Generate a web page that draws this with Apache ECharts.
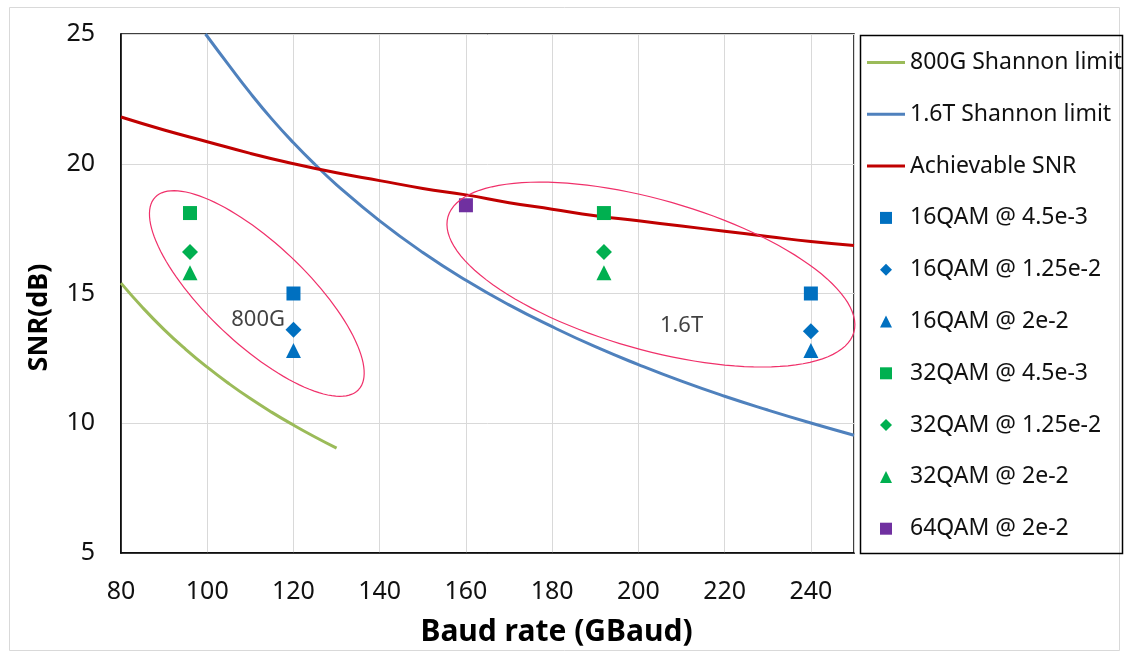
<!DOCTYPE html>
<html>
<head>
<meta charset="utf-8">
<script src="https://cdn.jsdelivr.net/npm/echarts@6/dist/echarts.min.js"></script>
<style>
  html, body { margin: 0; padding: 0; background: #fff; }
  #main { width: 1128px; height: 653px; }
</style>
</head>
<body>
<div id="main"></div>
<script>
// x ticks / y ticks
const xTicks = [80, 100, 120, 140, 160, 180, 200, 220, 240];
const yTicks = [5, 10, 15, 20, 25];

// curves [baud, snr]
const shannon800G = [
    [80, 15.4], [85, 14.46], [90, 13.61], [95, 12.85], [100, 12.16], [105, 11.53],
    [110, 10.95], [115, 10.42], [120, 9.93], [125, 9.47], [130, 9.04]
];
const shannon1T6 = [
    [99.6, 25.0], [105, 23.8], [110, 22.72], [115, 21.72], [120, 20.81], [125, 19.97],
    [130, 19.19], [140, 17.8], [150, 16.58], [160, 15.51], [170, 14.56], [180, 13.72],
    [190, 12.95], [200, 12.26], [210, 11.62], [220, 11.04], [230, 10.51], [240, 10.01], [250, 9.54]
];
const achievable = [
    [80, 21.8], [90, 21.3], [100, 20.85], [110, 20.4], [120, 20.0], [130, 19.65],
    [140, 19.35], [150, 19.05], [160, 18.8], [170, 18.5], [180, 18.25], [190, 18.0],
    [200, 17.8], [210, 17.6], [220, 17.4], [230, 17.2], [240, 17.0], [250, 16.85]
];

// measured points
const qam16_45e3 = [[120, 15.0], [240, 15.0]];
const qam16_125e2 = [[120, 13.6], [240, 13.55]];
const qam16_2e2 = [[120, 12.8], [240, 12.8]];
const qam32_45e3 = [[96, 18.1], [192, 18.1]];
const qam32_125e2 = [[96, 16.6], [192, 16.6]];
const qam32_2e2 = [[96, 15.8], [192, 15.8]];
const qam64_2e2 = [[160, 18.4]];

// group annotations: data-space centre, pixel semi-axes, rotation (deg)
const groupRings = [
    [111.5, 15.0, 140, 50, 43.4],
    [202.9, 15.73, 211, 75, 15.9]
];
const groupLabels = [
    { name: '800G', value: [111.8, 14.0] },
    { name: '1.6T', value: [210, 13.75] }
];

const FONT = '"Noto Sans", "Open Sans", sans-serif';
const BLUE = '#0070C0';
const GREEN = '#00B050';
// legend icons as paths so they keep their aspect
const LINE_ICON = 'path://M0,0H38V3H0Z';
const SQUARE_ICON = 'path://M0,0H10V10H0Z';
const DIAMOND_ICON = 'path://M5,0L10,5L5,10L0,5Z';
const TRIANGLE_ICON = 'path://M5,0L10,10H0Z';

const chart = echarts.init(document.getElementById('main'));

function lineSeries(name, data, color) {
    return {
        name: name,
        type: 'line',
        data: data,
        smooth: true,
        symbol: 'none',
        lineStyle: { color: color, width: 3 },
        itemStyle: { color: color },
        z: 3
    };
}

function dotSeries(name, data, color, symbol) {
    return {
        name: name,
        type: 'scatter',
        data: data,
        symbol: symbol,
        symbolSize: symbol === 'rect' ? 14 : (symbol === 'diamond' ? 16 : 15),
        itemStyle: { color: color, opacity: 1 },
        z: 4
    };
}

const option = {
    animation: false,
    backgroundColor: '#fff',
    grid: {
        left: 121, right: 274, top: 34, bottom: 100,
        show: true, borderColor: '#000', borderWidth: 1.5
    },
    xAxis: {
        type: 'value',
        min: xTicks[0], max: 250, interval: 20,
        name: 'Baud rate (GBaud)',
        nameLocation: 'middle',
        nameGap: 64,
        nameTextStyle: {
            fontFamily: FONT, fontSize: 30, fontWeight: 'bold', color: '#000',
            padding: [0, 0, 0, 138]
        },
        axisLine: { lineStyle: { color: '#000', width: 1.5 } },
        axisTick: { show: false },
        axisLabel: {
            fontFamily: FONT, fontSize: 25, color: '#111', margin: 26,
            showMaxLabel: false,
            formatter: v => xTicks.includes(v) ? String(v) : ''
        },
        splitLine: { show: true, lineStyle: { color: '#d9d9d9', width: 1 } }
    },
    yAxis: {
        type: 'value',
        min: yTicks[0], max: yTicks[yTicks.length - 1], interval: 5,
        name: 'SNR(dB)',
        nameLocation: 'middle',
        nameGap: 68,
        nameTextStyle: {
            fontFamily: FONT, fontSize: 27, fontWeight: 'bold', color: '#000',
            padding: [0, 48, 0, 0]
        },
        axisLine: { show: true, lineStyle: { color: '#000', width: 1.5 } },
        axisTick: { show: false },
        axisLabel: { fontFamily: FONT, fontSize: 25, color: '#111', margin: 26 },
        splitLine: { show: true, lineStyle: { color: '#d9d9d9', width: 1 } }
    },
    legend: {
        orient: 'vertical',
        left: 862, top: 45.5,
        itemWidth: 38, itemHeight: 12,
        itemGap: 27.8,
        symbolKeepAspect: true,
        textStyle: { fontFamily: FONT, fontSize: 23, color: '#111', lineHeight: 24 },
        data: [
            { name: '800G Shannon limit', icon: LINE_ICON },
            { name: '1.6T Shannon limit', icon: LINE_ICON },
            { name: 'Achievable SNR', icon: LINE_ICON },
            { name: '16QAM @ 4.5e-3', icon: SQUARE_ICON },
            { name: '16QAM @ 1.25e-2', icon: DIAMOND_ICON },
            { name: '16QAM @ 2e-2', icon: TRIANGLE_ICON },
            { name: '32QAM @ 4.5e-3', icon: SQUARE_ICON },
            { name: '32QAM @ 1.25e-2', icon: DIAMOND_ICON },
            { name: '32QAM @ 2e-2', icon: TRIANGLE_ICON },
            { name: '64QAM @ 2e-2', icon: SQUARE_ICON }
        ]
    },
    graphic: [
        { type: 'rect', shape: { x: 9.5, y: 7.5, width: 1110, height: 643 },
          style: { fill: 'none', stroke: '#d9d9d9', lineWidth: 1 }, silent: true },
        { type: 'rect', shape: { x: 860.5, y: 35.5, width: 262, height: 518 },
          style: { fill: 'none', stroke: '#000', lineWidth: 1.5 }, silent: true }
    ],
    series: [
        lineSeries('800G Shannon limit', shannon800G, '#9BBB59'),
        lineSeries('1.6T Shannon limit', shannon1T6, '#4F81BD'),
        lineSeries('Achievable SNR', achievable, '#C00000'),
        dotSeries('16QAM @ 4.5e-3', qam16_45e3, BLUE, 'rect'),
        dotSeries('16QAM @ 1.25e-2', qam16_125e2, BLUE, 'diamond'),
        dotSeries('16QAM @ 2e-2', qam16_2e2, BLUE, 'triangle'),
        dotSeries('32QAM @ 4.5e-3', qam32_45e3, GREEN, 'rect'),
        dotSeries('32QAM @ 1.25e-2', qam32_125e2, GREEN, 'diamond'),
        dotSeries('32QAM @ 2e-2', qam32_2e2, GREEN, 'triangle'),
        dotSeries('64QAM @ 2e-2', qam64_2e2, '#7030A0', 'rect'),
        {
            name: 'groups',
            type: 'custom',
            data: groupRings,
            silent: true,
            z: 5,
            renderItem: function (params, api) {
                const c = api.coord([api.value(0), api.value(1)]);
                const a = api.value(2), b = api.value(3);
                const t = api.value(4) * Math.PI / 180;
                const pts = [];
                for (let i = 0; i < 120; i++) {
                    const u = i / 120 * Math.PI * 2;
                    const x = a * Math.cos(u), y = b * Math.sin(u);
                    pts.push([c[0] + x * Math.cos(t) - y * Math.sin(t),
                              c[1] + x * Math.sin(t) + y * Math.cos(t)]);
                }
                return {
                    type: 'polygon',
                    shape: { points: pts },
                    style: { fill: 'none', stroke: '#F0306A', lineWidth: 1.2 }
                };
            }
        },
        {
            name: 'groupLabels',
            type: 'scatter',
            data: groupLabels,
            symbolSize: 0,
            silent: true,
            label: {
                show: true, position: 'inside', formatter: '{b}',
                fontFamily: FONT, fontSize: 22, color: '#111'
            },
            z: 6
        }
    ]
};

chart.setOption(option);
</script>
</body>
</html>
